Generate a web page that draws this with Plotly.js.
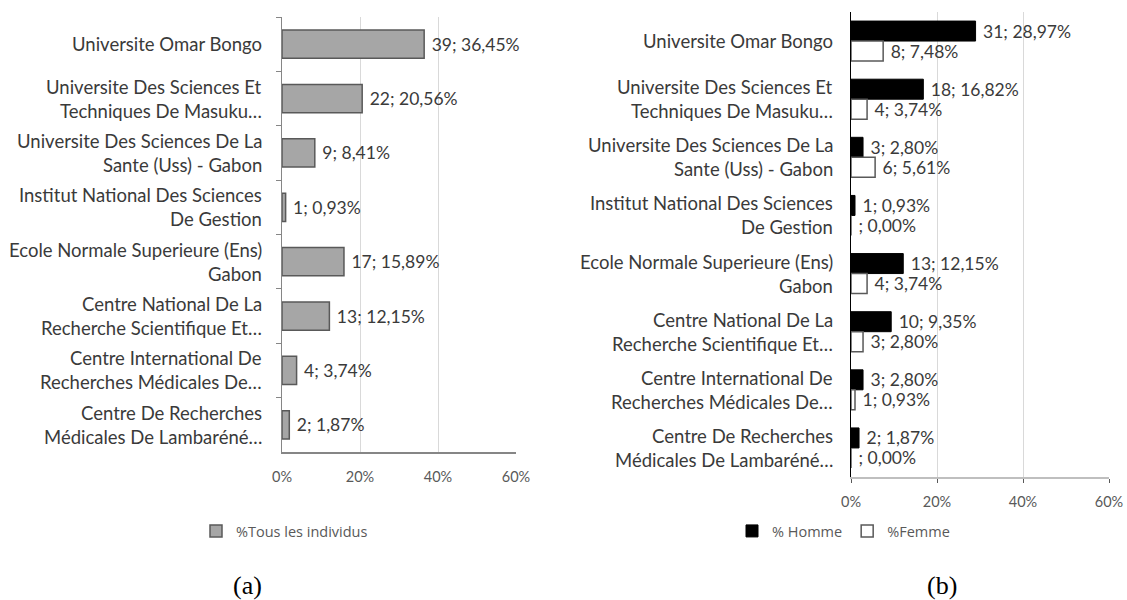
<!DOCTYPE html>
<html>
<head>
<meta charset="utf-8">
<script src="https://cdn.plot.ly/plotly-3.0.1.min.js"></script>
<style>
  html, body { margin: 0; padding: 0; background: #fff; }
  #myDiv { width: 1127px; height: 600px; }
</style>
</head>
<body>
<div id="myDiv"></div>
<script>
var categories = [
  "Universite Omar Bongo",
  "Universite Des Sciences Et<br>Techniques De Masuku…",
  "Universite Des Sciences De La<br>Sante (Uss) - Gabon",
  "Institut National Des Sciences<br>De Gestion",
  "Ecole Normale Superieure (Ens)<br>Gabon",
  "Centre National De La<br>Recherche Scientifique Et…",
  "Centre International De<br>Recherches Médicales De…",
  "Centre De Recherches<br>Médicales De Lambaréné…"
];

var countAll = [39, 22, 9, 1, 17, 13, 4, 2];
var pctAll = [36.45, 20.56, 8.41, 0.93, 15.89, 12.15, 3.74, 1.87];

var countMen = [31, 18, 3, 1, 13, 10, 3, 2];
var pctMen = [28.97, 16.82, 2.80, 0.93, 12.15, 9.35, 2.80, 1.87];

var countWomen = [8, 4, 6, null, 4, 3, 1, null];
var pctWomen = [7.48, 3.74, 5.61, 0.00, 3.74, 2.80, 0.93, 0.00];

var textCol = "rgb(58,58,58)";

// excel style "n; pp,pp%" labels (nbsp keeps the small gap after the bar)
var fmt = function(counts, pcts) {
  return pcts.map(function(p, i) {
    var c = counts[i] == null ? "" : counts[i];
    return "\u00a0" + c + "; " + p.toFixed(2).replace(".", ",") + "%";
  });
};

var all = {
  type: "bar", orientation: "h",
  x: pctAll, y: categories,
  xaxis: "x", yaxis: "y",
  width: 0.52,
  marker: {color: "rgb(166,166,166)", line: {color: "rgb(89,89,89)", width: 1.5}},
  text: fmt(countAll, pctAll),
  textposition: "outside",
  textfont: {size: 17.5, color: textCol},
  constraintext: "none",
  cliponaxis: false,
  name: "%Tous les individus",
  legend: "legend",
  hoverinfo: "skip"
};

var men = {
  type: "bar", orientation: "h",
  x: pctMen, y: categories,
  xaxis: "x2", yaxis: "y2",
  width: 0.344, offset: -0.344,
  marker: {color: "rgb(0,0,0)", line: {color: "rgb(0,0,0)", width: 1}},
  text: fmt(countMen, pctMen),
  textposition: "outside",
  textfont: {size: 17.5, color: textCol},
  constraintext: "none",
  cliponaxis: false,
  name: "% Homme",
  legend: "legend2",
  hoverinfo: "skip"
};

var women = {
  type: "bar", orientation: "h",
  x: pctWomen, y: categories,
  xaxis: "x2", yaxis: "y2",
  width: 0.344, offset: 0,
  marker: {color: "rgb(255,255,255)", line: {color: "rgb(89,89,89)", width: 1.5}},
  text: fmt(countWomen, pctWomen),
  textposition: "outside",
  textfont: {size: 17.5, color: textCol},
  constraintext: "none",
  cliponaxis: false,
  name: "%Femme",
  legend: "legend2",
  hoverinfo: "skip"
};

// centred two-line category labels, one annotation per line
var annotations = [];
var addLabels = function(yref, xRight) {
  categories.forEach(function(cat) {
    var lines = cat.split("<br>");
    lines.forEach(function(line, j) {
      annotations.push({
        xref: "paper", yref: yref,
        x: xRight, y: cat,
        xanchor: "right", yanchor: "middle",
        yshift: ((lines.length - 1) / 2 - j) * 24,
        text: line, showarrow: false,
        font: {size: 18.5, color: textCol}
      });
    });
  });
};
addLabels("y", 264 / 1127);
addLabels("y2", 835 / 1127);

annotations.push({xref: "paper", yref: "paper", x: 247 / 1127, y: (600 - 585) / 600, text: "(a)",
  showarrow: false, xanchor: "center", yanchor: "middle",
  font: {family: "Liberation Serif", size: 26, color: "#000"}});
annotations.push({xref: "paper", yref: "paper", x: 942 / 1127, y: (600 - 585) / 600, text: "(b)",
  showarrow: false, xanchor: "center", yanchor: "middle",
  font: {family: "Liberation Serif", size: 26, color: "#000"}});

var layout = {
  width: 1127, height: 600,
  margin: {l: 0, r: 0, t: 0, b: 0},
  paper_bgcolor: "rgb(255,255,255)",
  plot_bgcolor: "rgb(255,255,255)",
  font: {family: "Lato", color: textCol},
  barmode: "overlay",
  showlegend: true,
  xaxis: {
    domain: [282 / 1127, 516 / 1127], anchor: "y",
    range: [0, 60], dtick: 20, ticksuffix: "%",
    showgrid: true, gridcolor: "rgb(217,217,217)",
    showline: true, linecolor: "rgb(134,134,134)", linewidth: 1.5,
    ticks: "", zeroline: false,
    ticklabelstandoff: 11,
    tickfont: {size: 14.5, color: "rgb(89,89,89)"},
    fixedrange: true
  },
  yaxis: {
    domain: [(600 - 452) / 600, (600 - 17) / 600], anchor: "x",
    type: "category", autorange: "reversed",
    showticklabels: false,
    showline: true, linecolor: "rgb(134,134,134)", linewidth: 1.5,
    ticks: "outside", tickson: "boundaries", ticklen: 5,
    tickcolor: "rgb(134,134,134)", showgrid: false, zeroline: false,
    fixedrange: true
  },
  xaxis2: {
    domain: [851 / 1127, 1109 / 1127], anchor: "y2",
    range: [0, 60], dtick: 20, ticksuffix: "%",
    showgrid: true, gridcolor: "rgb(217,217,217)",
    showline: true, linecolor: "rgb(191,191,191)", linewidth: 2,
    ticks: "outside", ticklen: 4, tickcolor: "rgb(89,89,89)",
    zeroline: false,
    ticklabelstandoff: 7,
    tickfont: {size: 14.5, color: "rgb(89,89,89)"},
    fixedrange: true
  },
  yaxis2: {
    domain: [(600 - 477) / 600, (600 - 12) / 600], anchor: "x2",
    type: "category", autorange: "reversed",
    showticklabels: false,
    showline: true, linecolor: "rgb(0,0,0)", linewidth: 1.5,
    ticks: "", showgrid: false, zeroline: false,
    fixedrange: true
  },
  legend: {
    orientation: "h", x: 373 / 1127, xanchor: "right",
    y: (600 - 531) / 600, yanchor: "middle",
    font: {family: "Open Sans", size: 14.5, color: "rgb(89,89,89)"}
  },
  legend2: {
    orientation: "h", x: 955 / 1127, xanchor: "right",
    y: (600 - 531) / 600, yanchor: "middle",
    font: {family: "Open Sans", size: 14.5, color: "rgb(89,89,89)"}
  },
  annotations: annotations
};

Plotly.newPlot("myDiv", [all, men, women], layout, {staticPlot: true});
</script>
</body>
</html>
